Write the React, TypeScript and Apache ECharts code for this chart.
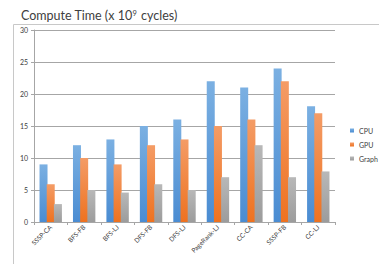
import React, { useEffect, useRef } from "react";
import * as echarts from "echarts";

const categories = ["SSSP-CA", "BFS-FB", "BFS-LJ", "DFS-FB", "DFS-LJ", "PageRank-LJ", "CC-CA", "SSSP-FB", "CC-LJ"];
const cpu = [9, 12, 12.9, 15, 16, 22, 21, 24, 18.1];
const gpu = [5.9, 10, 9, 12, 12.9, 15, 16, 22, 17];
const graph = [2.8, 5, 4.6, 5.9, 5, 7, 12, 7, 7.9];
const yTicks = [0, 5, 10, 15, 20, 25, 30];

const grad = (top: string, bottom: string) =>
  new echarts.graphic.LinearGradient(0, 0, 0, 1, [
    { offset: 0, color: top },
    { offset: 1, color: bottom },
  ]);

export default function App() {
  const ref = useRef<HTMLDivElement>(null);
  useEffect(() => {
    if (!ref.current) return;
    const chart = echarts.init(ref.current, undefined, { renderer: "svg" });
    const font = "Lato";
    chart.setOption({
      animation: false,
      title: {
        text: "Compute Time (x 10{sup|9} cycles)",
        left: 16,
        top: 4,
        textStyle: {
          fontSize: 12.5,
          fontWeight: "normal",
          color: "#404040",
          fontFamily: font,
          rich: {
            sup: { fontSize: 7.5, color: "#404040", fontFamily: font, verticalAlign: "top", padding: [0, 1, 0, 0] },
          },
        },
      },
      graphic: [
        { type: "line", shape: { x1: 13.5, y1: 24.5, x2: 379, y2: 24.5 }, style: { stroke: "#c8c8c8", lineWidth: 1 } },
        { type: "line", shape: { x1: 13.5, y1: 24.5, x2: 13.5, y2: 264 }, style: { stroke: "#c8c8c8", lineWidth: 1 } },
      ],
      legend: {
        orient: "vertical",
        left: 350,
        top: 127,
        padding: 0,
        itemWidth: 4,
        itemHeight: 4,
        itemGap: 7,
        icon: "rect",
        textStyle: { fontSize: 7, color: "#404040", fontFamily: font },
        data: ["CPU", "GPU", "Graph"],
      },
      grid: { left: 34, right: 44, top: 30, bottom: 42, containLabel: false },
      xAxis: {
        type: "category",
        data: categories,
        axisLine: { lineStyle: { color: "#a6a6a6" } },
        axisTick: { show: true, length: 3, lineStyle: { color: "#a6a6a6" } },
        axisLabel: { rotate: 45, fontSize: 6.5, color: "#404040", fontFamily: font, margin: 4, interval: 0 },
      },
      yAxis: {
        type: "value",
        min: 0,
        max: 30,
        interval: 5,
        axisLine: { show: true, lineStyle: { color: "#a6a6a6" } },
        axisTick: { show: true, length: 3, lineStyle: { color: "#a6a6a6" } },
        axisLabel: {
          fontSize: 7,
          color: "#404040",
          fontFamily: font,
          margin: 6,
          formatter: (v: number) => (yTicks.includes(v) ? String(v) : ""),
        },
        splitLine: { lineStyle: { color: "#a6a6a6", width: 1 } },
      },
      series: [
        { name: "CPU", type: "bar", data: cpu, barWidth: 8, barGap: "-10%", itemStyle: { color: grad("#7bb0e2", "#4a8cd2") } },
        { name: "GPU", type: "bar", data: gpu, barWidth: 8, barGap: "-10%", itemStyle: { color: grad("#f49c66", "#ee7220") } },
        { name: "Graph", type: "bar", data: graph, barWidth: 8, barGap: "-10%", itemStyle: { color: grad("#b8b8b8", "#9c9c9c") } },
      ],
    });
    return () => chart.dispose();
  }, []);
  return <div ref={ref} style={{ width: 379, height: 264, position: "absolute", left: 0, top: 0 }} />;
}
